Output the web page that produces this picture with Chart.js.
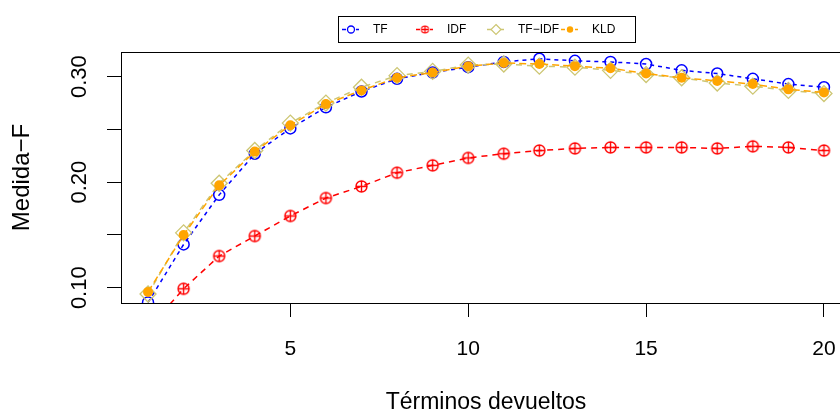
<!DOCTYPE html>
<html><head><meta charset="utf-8">
<script src="https://cdn.jsdelivr.net/npm/chart.js@4.4.1/dist/chart.umd.min.js"></script>
<style>
html,body{margin:0;padding:0;background:#fff;overflow:hidden;width:840px;height:416px;}
#wrap{width:870px;height:416px;}
canvas{display:block;}
</style></head><body>
<div id="wrap"><canvas id="c" width="870" height="416"></canvas></div>
<script>
const terminos = [1,2,3,4,5,6,7,8,9,10,11,12,13,14,15,16,17,18,19,20];
const tf    = [0.086,0.141,0.188,0.227,0.251,0.271,0.286,0.298,0.304,0.309,0.314,0.317,0.315,0.314,0.312,0.306,0.303,0.298,0.293,0.290];
const idf   = [0.061,0.099,0.130,0.149,0.168,0.185,0.196,0.209,0.216,0.223,0.227,0.230,0.232,0.233,0.233,0.233,0.232,0.234,0.233,0.230];
const tfidf = [0.094,0.152,0.199,0.230,0.256,0.275,0.290,0.301,0.305,0.311,0.312,0.310,0.309,0.306,0.302,0.299,0.294,0.291,0.287,0.284];
const kld   = [0.096,0.150,0.197,0.229,0.254,0.274,0.287,0.299,0.304,0.310,0.313,0.312,0.310,0.308,0.303,0.299,0.296,0.293,0.288,0.285];
const seriesNames = ['TF','IDF','TF\u2212IDF','KLD'];
const xTicks = [5,10,15,20];
const yTicks = [0.10,0.15,0.20,0.25,0.30];
const yLabelValues = [0.10,0.20,0.30];
const yLabelTexts = ['0.10','0.20','0.30'];
const xTitle = 'Términos devueltos';
const yTitle = 'Medida\u2212F';

const BLUE='#0000FF', RED='#FF0000', KHAKI='#CDC673', ORANGE='#FFA500';
const SANS='"Liberation Sans", Arial, Helvetica, sans-serif';

function makeOPlus(r, color, lw){
  const s = Math.ceil(2*r + lw + 2) | 1;
  const c = document.createElement('canvas'); c.width = s; c.height = s;
  const g = c.getContext('2d'); g.strokeStyle = color; g.lineWidth = lw;
  const m = s/2;
  g.beginPath(); g.arc(m,m,r,0,2*Math.PI);
  g.moveTo(m-r,m); g.lineTo(m+r,m); g.moveTo(m,m-r); g.lineTo(m,m+r);
  g.stroke();
  return c;
}
const oplus = makeOPlus(5.5, RED, 1.4);
const oplusSmall = makeOPlus(3.5, RED, 1.2);

const pts = arr => terminos.map((x,i)=>({x:x, y:arr[i]}));

const overlay = {
  id:'overlay',
  afterDraw(chart){
    const ctx = chart.ctx, a = chart.chartArea, ys = chart.scales.y;
    ctx.save();
    // box
    ctx.strokeStyle='#000'; ctx.lineWidth=1;
    ctx.strokeRect(Math.round(a.left)+0.5, Math.round(a.top)+0.5, Math.round(a.right-a.left), Math.round(a.bottom-a.top));
    // rotated y labels
    ctx.fillStyle='#000'; ctx.font='22px '+SANS; ctx.textAlign='center'; ctx.textBaseline='middle';
    yLabelValues.forEach((v,i)=>{
      const py = ys.getPixelForValue(v);
      ctx.save(); ctx.translate(80, py); ctx.rotate(-Math.PI/2); ctx.fillText(yLabelTexts[i],0,0); ctx.restore();
    });
    // legend
    ctx.strokeRect(338.5,16.5,297,26);
    const cy = 29.5;
    const textX = [373,447,518,592];
    const colors = [BLUE,RED,KHAKI,ORANGE];
    ctx.font='12px '+SANS; ctx.textAlign='left'; ctx.textBaseline='middle';
    for(let i=0;i<4;i++){
      const cx = textX[i]-22;
      ctx.strokeStyle=colors[i]; ctx.lineWidth=1.3; ctx.setLineDash([4,3]);
      ctx.beginPath(); ctx.moveTo(cx-9,cy); ctx.lineTo(cx+8,cy); ctx.stroke();
      ctx.setLineDash([]);
      if(i===0){ ctx.fillStyle='#fff'; ctx.beginPath(); ctx.arc(cx,cy,3.5,0,2*Math.PI); ctx.fill(); ctx.strokeStyle=BLUE; ctx.lineWidth=1.3; ctx.stroke(); }
      if(i===1){ ctx.drawImage(oplusSmall, cx-oplusSmall.width/2, cy-oplusSmall.height/2); }
      if(i===2){ ctx.fillStyle='#fff'; ctx.beginPath(); ctx.moveTo(cx,cy-5); ctx.lineTo(cx+5,cy); ctx.lineTo(cx,cy+5); ctx.lineTo(cx-5,cy); ctx.closePath(); ctx.fill(); ctx.strokeStyle=KHAKI; ctx.lineWidth=1.2; ctx.stroke(); }
      if(i===3){ ctx.fillStyle=ORANGE; ctx.beginPath(); ctx.arc(cx,cy,3.2,0,2*Math.PI); ctx.fill(); }
      ctx.fillStyle='#000'; ctx.fillText(seriesNames[i], textX[i], cy);
    }
    ctx.restore();
  }
};

new Chart(document.getElementById('c'), {
  type:'line',
  data:{datasets:[
    {label:seriesNames[0], data:pts(tf), borderColor:BLUE, borderWidth:1.5, borderDash:[4,4], pointStyle:'circle', pointRadius:5.5, pointBorderWidth:1.5, pointBorderColor:BLUE, pointBackgroundColor:'rgba(0,0,0,0)', order:3, clip:0, tension:0},
    {label:seriesNames[1], data:pts(idf), borderColor:RED, borderWidth:1.5, borderDash:[6,5], pointStyle:oplus, pointRadius:5.5, order:2, clip:0, tension:0},
    {label:seriesNames[2], data:pts(tfidf), borderColor:KHAKI, borderWidth:1.5, borderDash:[6,5], pointStyle:'rectRot', pointRadius:8, pointBorderWidth:1.3, pointBorderColor:KHAKI, pointBackgroundColor:'rgba(0,0,0,0)', order:1, clip:0, tension:0},
    {label:seriesNames[3], data:pts(kld), borderColor:ORANGE, borderWidth:1.5, borderDash:[7,4], pointStyle:'circle', pointRadius:5, pointBorderWidth:0, pointBackgroundColor:ORANGE, pointBorderColor:ORANGE, order:0, clip:0, tension:0}
  ]},
  options:{
    responsive:false, animation:false, events:[],
    layout:{padding:{left:0,right:19,top:52,bottom:0}},
    plugins:{legend:{display:false}, tooltip:{enabled:false}},
    scales:{
      x:{type:'linear', min:0.24, max:20.76,
        afterBuildTicks:s=>{ s.ticks = xTicks.map(v=>({value:v})); },
        afterFit:s=>{ s.height = 113; },
        grid:{drawOnChartArea:false, drawTicks:true, tickLength:14, color:'#000', tickColor:'#000', lineWidth:1},
        border:{display:false},
        ticks:{font:{family:SANS, size:21}, color:'#000', padding:20, maxRotation:0, minRotation:0, autoSkip:false, callback:v=>String(v)},
        title:{display:true, text:xTitle, font:{family:SANS, size:23}, color:'#000', padding:{top:0,bottom:0}}
      },
      y:{type:'linear', min:0.0855, max:0.3234,
        afterBuildTicks:s=>{ s.ticks = yTicks.map(v=>({value:v})); },
        afterFit:s=>{ s.width = 121; },
        grid:{drawOnChartArea:false, drawTicks:true, tickLength:14, color:'#000', tickColor:'#000', lineWidth:1},
        border:{display:false},
        ticks:{display:false},
        title:{display:true, text:yTitle, font:{family:SANS, size:24}, color:'#000', padding:{top:8,bottom:0}}
      }
    }
  },
  plugins:[overlay]
});
</script>
</body></html>
